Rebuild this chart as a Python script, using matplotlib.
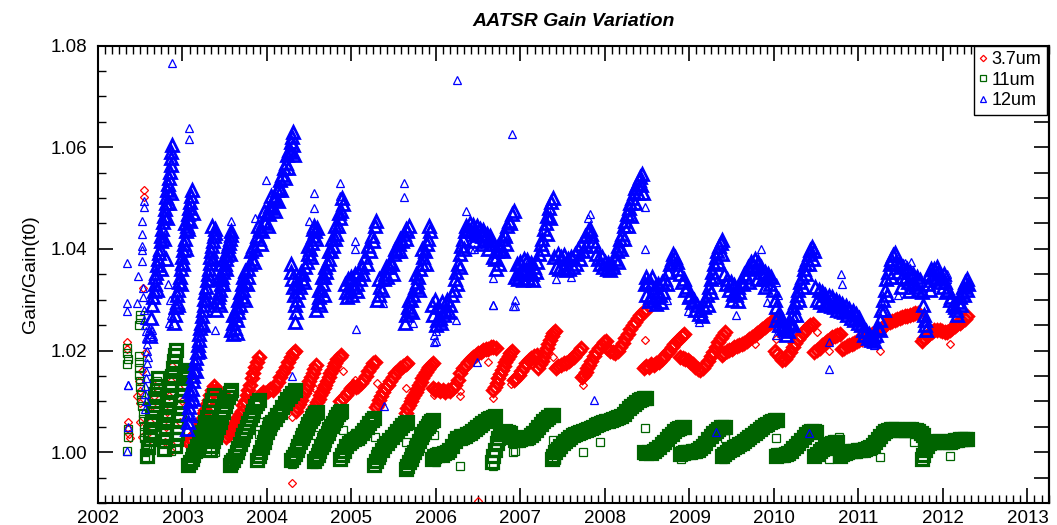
import matplotlib
matplotlib.use("Agg")
import matplotlib.pyplot as plt
from matplotlib.ticker import MultipleLocator, FixedLocator, FuncFormatter

# ---------------- data: (decimal year, Gain/Gain(t0)) ----------------
ch37 = [
 (2003.06,1.0020),(2003.08,1.0018),(2003.09,1.0026),(2003.11,1.0024),(2003.13,1.0031),(2003.15,1.0036),(2003.17,1.0045),
 (2003.19,1.0050),(2003.21,1.0060),(2003.23,1.0066),(2003.25,1.0077),(2003.27,1.0083),(2003.29,1.0095),(2003.31,1.0102),
 (2003.33,1.0113),(2003.35,1.0122),(2003.37,1.0130),(2003.40,1.0122),(2003.43,1.0118),(2003.46,1.0115),(2003.49,1.0112),
 (2003.52,1.0030),(2003.54,1.0036),(2003.56,1.0040),(2003.58,1.0046),(2003.60,1.0050),(2003.62,1.0058),(2003.64,1.0063),
 (2003.66,1.0070),(2003.68,1.0076),(2003.70,1.0082),(2003.72,1.0092),(2003.74,1.0101),(2003.76,1.0112),(2003.78,1.0122),
 (2003.80,1.0133),(2003.82,1.0145),(2003.84,1.0156),(2003.86,1.0167),(2003.88,1.0178),(2003.90,1.0187),
 (2003.92,1.0113),(2003.95,1.0118),(2003.98,1.0116),(2004.01,1.0121),(2004.04,1.0124),(2004.07,1.0122),(2004.10,1.0130),
 (2004.13,1.0138),(2004.16,1.0148),(2004.19,1.0158),(2004.22,1.0168),(2004.25,1.0178),(2004.28,1.0188),(2004.31,1.0196),(2004.33,1.0200),
 (2004.34,1.0082),(2004.36,1.0088),(2004.38,1.0095),(2004.40,1.0102),(2004.42,1.0110),(2004.44,1.0117),(2004.46,1.0124),
 (2004.48,1.0132),(2004.50,1.0140),(2004.52,1.0148),(2004.54,1.0156),(2004.56,1.0164),(2004.58,1.0172),
 (2004.55,1.0085),(2004.57,1.0090),(2004.59,1.0098),(2004.61,1.0104),(2004.63,1.0112),(2004.65,1.0118),(2004.67,1.0126),
 (2004.69,1.0133),(2004.71,1.0140),(2004.73,1.0147),(2004.75,1.0155),(2004.77,1.0162),(2004.79,1.0170),(2004.81,1.0176),
 (2004.83,1.0183),(2004.86,1.0188),(2004.88,1.0191),
 (2004.87,1.0100),(2004.90,1.0106),(2004.93,1.0113),(2004.96,1.0118),(2004.99,1.0126),(2005.02,1.0130),(2005.05,1.0128),
 (2005.08,1.0131),(2005.11,1.0137),(2005.14,1.0142),(2005.17,1.0150),(2005.20,1.0160),(2005.23,1.0168),(2005.26,1.0175),(2005.28,1.0178),
 (2005.29,1.0088),(2005.31,1.0095),(2005.33,1.0103),(2005.35,1.0110),(2005.37,1.0118),(2005.40,1.0126),(2005.43,1.0133),
 (2005.46,1.0141),(2005.49,1.0148),(2005.52,1.0155),(2005.55,1.0160),(2005.58,1.0165),(2005.61,1.0170),(2005.64,1.0174),(2005.66,1.0176),
 (2005.64,1.0078),(2005.66,1.0086),(2005.68,1.0093),(2005.70,1.0100),(2005.72,1.0106),(2005.74,1.0112),(2005.76,1.0119),
 (2005.78,1.0125),(2005.80,1.0132),(2005.82,1.0139),(2005.84,1.0145),(2005.86,1.0151),(2005.88,1.0157),(2005.90,1.0163),
 (2005.92,1.0168),(2005.94,1.0172),(2005.96,1.0176),
 (2005.96,1.0126),(2005.99,1.0122),(2006.02,1.0124),(2006.05,1.0120),(2006.08,1.0122),(2006.11,1.0119),(2006.14,1.0123),
 (2006.17,1.0121),(2006.20,1.0126),(2006.23,1.0133),(2006.26,1.0143),(2006.29,1.0155),(2006.32,1.0165),(2006.35,1.0172),
 (2006.38,1.0178),(2006.41,1.0183),(2006.44,1.0188),(2006.47,1.0192),(2006.50,1.0195),(2006.53,1.0198),(2006.56,1.0201),
 (2006.59,1.0203),(2006.62,1.0204),(2006.65,1.0206),(2006.68,1.0207),(2006.71,1.0205),
 (2006.68,1.0122),(2006.70,1.0128),(2006.72,1.0136),(2006.74,1.0145),(2006.76,1.0153),(2006.78,1.0162),(2006.80,1.0170),
 (2006.82,1.0177),(2006.84,1.0184),(2006.86,1.0190),(2006.88,1.0196),(2006.90,1.0200),
 (2006.92,1.0142),(2006.95,1.0146),(2006.98,1.0152),(2007.01,1.0160),(2007.04,1.0168),(2007.07,1.0175),(2007.10,1.0181),
 (2007.13,1.0186),(2007.16,1.0190),(2007.19,1.0192),
 (2007.21,1.0166),(2007.23,1.0173),(2007.25,1.0180),(2007.27,1.0188),(2007.29,1.0197),(2007.31,1.0205),(2007.33,1.0213),
 (2007.35,1.0221),(2007.37,1.0228),(2007.39,1.0234),(2007.41,1.0238),
 (2007.42,1.0166),(2007.45,1.0170),(2007.48,1.0172),(2007.51,1.0175),(2007.54,1.0176),(2007.57,1.0179),(2007.60,1.0183),
 (2007.63,1.0188),(2007.66,1.0194),(2007.69,1.0199),(2007.72,1.0205),
 (2007.73,1.0148),(2007.75,1.0152),(2007.77,1.0158),(2007.79,1.0165),(2007.81,1.0172),(2007.84,1.0180),(2007.87,1.0189),
 (2007.90,1.0197),(2007.93,1.0205),(2007.96,1.0211),(2007.99,1.0216),(2008.01,1.0218),
 (2008.03,1.0205),(2008.06,1.0200),(2008.09,1.0198),(2008.12,1.0196),(2008.15,1.0200),(2008.18,1.0207),(2008.21,1.0215),
 (2008.24,1.0224),(2008.27,1.0233),(2008.30,1.0242),(2008.33,1.0250),(2008.36,1.0257),(2008.39,1.0264),(2008.42,1.0270),
 (2008.45,1.0276),(2008.48,1.0280),
 (2008.46,1.0165),(2008.49,1.0170),(2008.52,1.0168),(2008.55,1.0173),(2008.58,1.0171),(2008.61,1.0175),(2008.64,1.0178),
 (2008.67,1.0184),(2008.70,1.0189),(2008.73,1.0195),(2008.76,1.0200),(2008.79,1.0207),(2008.82,1.0212),(2008.85,1.0218),
 (2008.88,1.0223),(2008.91,1.0228),(2008.94,1.0233),
 (2008.89,1.0188),(2008.92,1.0185),(2008.95,1.0183),(2008.98,1.0181),(2009.01,1.0178),(2009.04,1.0173),(2009.07,1.0168),
 (2009.10,1.0163),(2009.13,1.0161),(2009.16,1.0165),(2009.19,1.0172),(2009.22,1.0180),(2009.25,1.0189),(2009.28,1.0198),
 (2009.31,1.0207),(2009.34,1.0216),(2009.37,1.0224),(2009.40,1.0231),(2009.42,1.0236),
 (2009.38,1.0192),(2009.41,1.0196),(2009.44,1.0199),(2009.47,1.0202),(2009.50,1.0204),(2009.53,1.0207),(2009.56,1.0209),
 (2009.59,1.0211),(2009.62,1.0212),(2009.65,1.0214),(2009.68,1.0218),(2009.71,1.0222),(2009.74,1.0226),(2009.77,1.0230),
 (2009.80,1.0234),(2009.83,1.0238),(2009.86,1.0242),(2009.89,1.0246),(2009.92,1.0250),(2009.95,1.0254),(2009.98,1.0258),
 (2010.01,1.0261),(2010.03,1.0263),
 (2010.01,1.0200),(2010.04,1.0194),(2010.07,1.0188),(2010.10,1.0182),(2010.13,1.0183),(2010.16,1.0190),(2010.19,1.0198),
 (2010.22,1.0206),(2010.25,1.0214),(2010.28,1.0222),(2010.31,1.0229),(2010.34,1.0235),(2010.37,1.0241),(2010.40,1.0246),
 (2010.43,1.0250),(2010.46,1.0253),
 (2010.48,1.0198),(2010.51,1.0201),(2010.54,1.0205),(2010.57,1.0210),(2010.60,1.0214),(2010.63,1.0218),(2010.66,1.0222),
 (2010.69,1.0226),(2010.72,1.0229),(2010.75,1.0231),(2010.78,1.0233),
 (2010.80,1.0203),(2010.83,1.0205),(2010.86,1.0208),(2010.89,1.0211),(2010.92,1.0213),(2010.95,1.0215),(2010.98,1.0218),
 (2011.01,1.0220),(2011.04,1.0222),(2011.07,1.0224),(2011.10,1.0227),(2011.13,1.0229),(2011.16,1.0232),(2011.19,1.0235),
 (2011.22,1.0238),(2011.25,1.0241),(2011.28,1.0245),(2011.31,1.0250),(2011.34,1.0254),(2011.37,1.0257),(2011.40,1.0259),
 (2011.43,1.0261),(2011.46,1.0263),(2011.49,1.0265),(2011.52,1.0266),(2011.55,1.0267),(2011.58,1.0268),(2011.61,1.0270),
 (2011.64,1.0271),(2011.67,1.0273),(2011.70,1.0274),
 (2011.75,1.0218),(2011.78,1.0224),(2011.81,1.0229),(2011.84,1.0233),(2011.87,1.0237),(2011.90,1.0240),(2011.93,1.0241),
 (2011.96,1.0240),(2011.99,1.0238),(2012.02,1.0236),(2012.05,1.0237),(2012.08,1.0240),(2012.11,1.0244),(2012.14,1.0248),
 (2012.17,1.0252),(2012.20,1.0255),(2012.23,1.0259),(2012.26,1.0263),(2012.29,1.0267),
]
ch37_scatter = [
 (2002.34,1.0217),(2002.34,1.0203),(2002.35,1.0060),(2002.36,1.0047),(2002.38,1.0028),(2002.37,1.0035),
 (2002.54,1.0515),(2002.54,1.0502),(2002.53,1.0323),(2002.50,1.0097),(2002.50,1.0120),(2002.52,1.0160),(2002.56,1.0195),
 (2002.48,1.0140),(2002.46,1.0110),(2002.50,1.0060),(2002.52,1.0030),(2002.55,1.0000),
 (2002.58,1.0020),(2002.60,1.0040),(2002.62,1.0060),(2002.64,1.0090),(2002.66,1.0110),(2002.68,1.0130),
 (2002.79,1.0020),(2002.80,1.0050),(2002.82,1.0080),(2002.84,1.0110),(2002.86,1.0140),(2002.88,1.0170),(2002.87,1.0003),
 (2002.94,1.0020),(2002.97,1.0060),(2003.00,1.0100),(2003.03,1.0130),
 (2003.55,1.0027),(2003.90,1.0190),(2004.30,1.0070),(2004.30,0.9940),(2004.56,1.0127),(2004.90,1.0160),(2005.04,1.0143),
 (2005.30,1.0137),(2005.65,1.0127),(2005.98,1.0113),(2006.28,1.0120),(2006.28,1.0110),(2006.61,1.0177),(2006.67,1.0107),
 (2006.50,0.9903),(2006.89,1.0135),(2006.93,1.0143),(2007.38,1.0187),(2007.73,1.0143),(2007.74,1.0133),(2008.47,1.0220),
 (2009.78,1.0213),(2010.03,1.0223),(2010.51,1.0237),(2010.65,1.0200),(2011.26,1.0200),(2011.10,1.0233),(2012.08,1.0213),
 (2011.76,1.0218),
]

ch11 = [
 (2002.58,0.9993),(2002.59,1.0010),(2002.61,1.0025),(2002.62,1.0040),(2002.63,1.0055),(2002.64,1.0070),(2002.66,1.0085),
 (2002.67,1.0100),(2002.68,1.0115),(2002.70,1.0130),(2002.71,1.0145),
 (2002.78,1.0007),(2002.79,1.0022),(2002.80,1.0036),(2002.81,1.0050),(2002.82,1.0065),(2002.83,1.0080),(2002.84,1.0094),
 (2002.85,1.0108),(2002.86,1.0122),(2002.87,1.0136),(2002.88,1.0150),(2002.89,1.0165),(2002.90,1.0180),(2002.91,1.0192),(2002.92,1.0202),
 (2002.91,1.0013),(2002.92,1.0025),(2002.93,1.0038),(2002.94,1.0050),(2002.95,1.0063),(2002.96,1.0075),(2002.97,1.0088),
 (2002.98,1.0100),(2002.99,1.0113),(2003.00,1.0125),(2003.01,1.0135),(2003.02,1.0145),(2003.03,1.0152),(2003.04,1.0158),(2003.05,1.0162),
 (2003.07,0.9975),(2003.09,0.9980),(2003.11,0.9987),(2003.13,0.9995),(2003.15,1.0003),(2003.17,1.0012),(2003.19,1.0020),
 (2003.21,1.0030),(2003.23,1.0040),(2003.25,1.0050),(2003.27,1.0060),(2003.29,1.0070),(2003.31,1.0080),(2003.33,1.0090),
 (2003.35,1.0102),(2003.37,1.0112),
 (2003.32,1.0005),(2003.34,1.0013),(2003.36,1.0022),(2003.38,1.0030),(2003.40,1.0040),(2003.42,1.0050),(2003.44,1.0060),
 (2003.46,1.0070),(2003.48,1.0080),(2003.50,1.0090),(2003.52,1.0100),(2003.54,1.0108),(2003.56,1.0116),(2003.58,1.0122),
 (2003.56,0.9975),(2003.58,0.9980),(2003.60,0.9985),(2003.62,0.9992),(2003.64,1.0000),(2003.66,1.0008),(2003.68,1.0016),
 (2003.70,1.0025),(2003.72,1.0033),(2003.74,1.0042),(2003.76,1.0050),(2003.78,1.0058),(2003.80,1.0066),(2003.82,1.0074),
 (2003.84,1.0082),(2003.86,1.0090),(2003.88,1.0097),(2003.90,1.0103),
 (2003.88,0.9985),(2003.90,0.9992),(2003.92,1.0000),(2003.94,1.0010),(2003.96,1.0020),(2003.98,1.0030),(2004.00,1.0040),
 (2004.02,1.0048),(2004.04,1.0056),(2004.06,1.0060),(2004.09,1.0066),(2004.12,1.0073),(2004.15,1.0080),(2004.18,1.0088),
 (2004.21,1.0096),(2004.24,1.0104),(2004.27,1.0111),(2004.30,1.0117),(2004.33,1.0122),
 (2004.29,0.9985),(2004.31,0.9990),(2004.33,0.9997),(2004.35,1.0005),(2004.37,1.0013),(2004.39,1.0020),(2004.41,1.0027),
 (2004.43,1.0034),(2004.45,1.0041),(2004.47,1.0048),(2004.49,1.0055),(2004.51,1.0061),(2004.53,1.0067),(2004.55,1.0072),
 (2004.57,1.0077),(2004.59,1.0080),
 (2004.56,0.9982),(2004.58,0.9988),(2004.60,0.9995),(2004.62,1.0003),(2004.64,1.0010),(2004.66,1.0017),(2004.68,1.0024),
 (2004.70,1.0031),(2004.72,1.0038),(2004.74,1.0045),(2004.76,1.0052),(2004.78,1.0058),(2004.80,1.0064),(2004.82,1.0070),
 (2004.84,1.0075),(2004.86,1.0079),(2004.88,1.0082),
 (2004.87,0.9987),(2004.89,0.9995),(2004.91,1.0003),(2004.94,1.0012),(2004.97,1.0018),(2005.00,1.0022),(2005.03,1.0025),
 (2005.06,1.0028),(2005.09,1.0032),(2005.12,1.0038),(2005.15,1.0044),(2005.18,1.0050),(2005.21,1.0057),(2005.24,1.0063),(2005.27,1.0068),
 (2005.27,0.9975),(2005.29,0.9982),(2005.31,0.9990),(2005.33,0.9997),(2005.36,1.0005),(2005.39,1.0012),(2005.42,1.0018),
 (2005.45,1.0024),(2005.48,1.0030),(2005.51,1.0036),(2005.54,1.0042),(2005.57,1.0048),(2005.60,1.0053),(2005.63,1.0057),(2005.66,1.0060),
 (2005.64,0.9967),(2005.66,0.9973),(2005.68,0.9980),(2005.70,0.9987),(2005.72,0.9994),(2005.74,1.0001),(2005.76,1.0008),
 (2005.78,1.0015),(2005.80,1.0022),(2005.82,1.0029),(2005.84,1.0035),(2005.86,1.0041),(2005.88,1.0047),(2005.90,1.0052),
 (2005.92,1.0057),(2005.94,1.0061),(2005.96,1.0064),
 (2005.95,0.9987),(2005.98,0.9992),(2006.01,0.9995),(2006.04,0.9997),(2006.07,0.9995),(2006.10,0.9998),(2006.13,1.0000),
 (2006.16,1.0005),(2006.19,1.0013),(2006.22,1.0022),(2006.25,1.0027),(2006.28,1.0028),(2006.31,1.0030),(2006.34,1.0032),
 (2006.37,1.0035),(2006.40,1.0038),(2006.43,1.0042),(2006.46,1.0046),(2006.49,1.0050),(2006.52,1.0054),(2006.55,1.0058),
 (2006.58,1.0061),(2006.61,1.0065),(2006.64,1.0068),(2006.67,1.0070),(2006.70,1.0071),
 (2006.66,0.9980),(2006.68,0.9992),(2006.70,1.0005),(2006.72,1.0018),(2006.74,1.0028),(2006.76,1.0035),(2006.79,1.0040),
 (2006.82,1.0041),(2006.85,1.0040),(2006.88,1.0037),(2006.91,1.0030),(2006.94,1.0024),(2006.97,1.0024),(2007.00,1.0026),
 (2007.03,1.0027),(2007.06,1.0027),(2007.09,1.0029),(2007.12,1.0033),(2007.15,1.0038),(2007.18,1.0044),(2007.21,1.0050),
 (2007.24,1.0056),(2007.27,1.0062),(2007.30,1.0066),(2007.33,1.0070),(2007.36,1.0073),(2007.39,1.0074),
 (2007.37,0.9987),(2007.39,0.9993),(2007.41,1.0000),(2007.44,1.0007),(2007.47,1.0013),(2007.50,1.0018),(2007.53,1.0022),
 (2007.56,1.0026),(2007.59,1.0030),(2007.62,1.0033),(2007.65,1.0036),(2007.68,1.0038),(2007.71,1.0040),(2007.74,1.0041),
 (2007.77,1.0043),(2007.80,1.0045),(2007.83,1.0048),(2007.86,1.0050),(2007.89,1.0053),(2007.92,1.0056),(2007.95,1.0058),
 (2007.98,1.0060),(2008.01,1.0061),(2008.04,1.0062),(2008.07,1.0063),(2008.10,1.0065),(2008.13,1.0067),(2008.16,1.0069),
 (2008.19,1.0072),(2008.22,1.0076),(2008.25,1.0081),(2008.28,1.0086),(2008.31,1.0090),(2008.34,1.0094),(2008.37,1.0098),
 (2008.40,1.0102),(2008.43,1.0105),(2008.46,1.0107),(2008.49,1.0106),
 (2008.46,1.0000),(2008.49,0.9998),(2008.52,1.0000),(2008.55,0.9999),(2008.58,1.0002),(2008.61,1.0006),(2008.64,1.0011),
 (2008.67,1.0016),(2008.70,1.0021),(2008.73,1.0026),(2008.76,1.0031),(2008.79,1.0036),(2008.82,1.0041),(2008.85,1.0045),
 (2008.88,1.0048),(2008.91,1.0050),(2008.94,1.0049),
 (2008.89,0.9997),(2008.92,0.9999),(2008.95,1.0000),(2008.98,1.0001),(2009.01,1.0001),(2009.04,1.0002),(2009.07,1.0003),
 (2009.10,1.0005),(2009.13,1.0008),(2009.16,1.0013),(2009.19,1.0019),(2009.22,1.0025),(2009.25,1.0031),(2009.28,1.0037),
 (2009.31,1.0042),(2009.34,1.0046),(2009.37,1.0049),(2009.40,1.0050),(2009.42,1.0049),
 (2009.38,0.9993),(2009.41,0.9997),(2009.44,1.0001),(2009.47,1.0004),(2009.50,1.0007),(2009.53,1.0010),(2009.56,1.0013),
 (2009.59,1.0016),(2009.62,1.0019),(2009.65,1.0022),(2009.68,1.0026),(2009.71,1.0030),(2009.74,1.0034),(2009.77,1.0038),
 (2009.80,1.0042),(2009.83,1.0046),(2009.86,1.0050),(2009.89,1.0053),(2009.92,1.0056),(2009.95,1.0059),(2009.98,1.0061),
 (2010.01,1.0063),(2010.04,1.0063),
 (2010.02,0.9993),(2010.05,0.9994),(2010.08,0.9995),(2010.11,0.9994),(2010.14,0.9996),(2010.17,0.9999),(2010.20,1.0003),
 (2010.23,1.0008),(2010.26,1.0013),(2010.29,1.0018),(2010.32,1.0024),(2010.35,1.0030),(2010.38,1.0035),(2010.41,1.0039),
 (2010.44,1.0041),(2010.47,1.0041),(2010.50,1.0039),
 (2010.48,0.9993),(2010.51,0.9997),(2010.54,1.0002),(2010.57,1.0006),(2010.60,1.0010),(2010.63,1.0013),(2010.66,1.0016),
 (2010.69,1.0018),(2010.72,1.0020),(2010.75,1.0021),
 (2010.78,0.9993),(2010.81,0.9996),(2010.84,0.9999),(2010.87,1.0001),(2010.90,1.0002),(2010.93,1.0003),(2010.96,1.0003),
 (2010.99,1.0004),(2011.02,1.0004),(2011.05,1.0005),(2011.08,1.0006),(2011.11,1.0008),(2011.14,1.0011),(2011.17,1.0015),
 (2011.20,1.0020),(2011.23,1.0026),(2011.26,1.0032),(2011.29,1.0037),(2011.32,1.0041),(2011.35,1.0044),(2011.38,1.0046),
 (2011.41,1.0046),(2011.44,1.0045),(2011.47,1.0044),(2011.50,1.0043),(2011.53,1.0043),(2011.56,1.0044),(2011.59,1.0045),
 (2011.62,1.0045),(2011.65,1.0044),(2011.68,1.0043),(2011.71,1.0041),(2011.74,1.0038),(2011.77,1.0034),
 (2011.75,0.9987),(2011.77,0.9995),(2011.79,1.0005),(2011.81,1.0013),(2011.84,1.0018),(2011.87,1.0020),(2011.90,1.0021),
 (2011.93,1.0022),(2011.96,1.0022),(2011.99,1.0021),(2012.02,1.0020),(2012.05,1.0020),(2012.08,1.0021),(2012.11,1.0022),
 (2012.14,1.0023),(2012.17,1.0024),(2012.20,1.0025),(2012.23,1.0025),(2012.26,1.0026),(2012.29,1.0026),
]
ch11_scatter = [
 (2002.34,1.0205),(2002.34,1.0195),(2002.35,1.0183),(2002.34,1.0173),(2002.35,1.0045),(2002.36,1.0030),(2002.34,1.0003),
 (2002.50,1.0270),(2002.50,1.0262),(2002.49,1.0250),(2002.48,1.0190),(2002.48,1.0178),(2002.49,1.0165),(2002.49,1.0152),
 (2002.50,1.0140),(2002.50,1.0128),(2002.51,1.0115),(2002.51,1.0103),(2002.52,1.0090),(2002.53,1.0078),(2002.53,1.0065),
 (2002.54,1.0052),(2002.55,1.0040),(2002.55,1.0027),(2002.56,1.0013),(2002.56,1.0000),(2002.56,0.9987),
 (2002.58,1.0005),(2002.70,1.0140),(2002.71,1.0127),(2002.87,1.0003),
 (2003.38,1.0000),(2003.37,1.0030),(2003.60,0.9985),(2003.65,0.9990),(2003.90,1.0060),(2003.91,1.0035),
 (2004.30,0.9977),(2004.56,1.0033),(2004.56,0.9977),(2004.90,1.0043),(2005.04,1.0037),(2005.28,1.0030),
 (2005.65,1.0020),(2005.96,1.0057),(2005.98,1.0033),(2006.26,1.0037),(2006.28,0.9973),(2006.00,0.9980),
 (2006.91,1.0000),(2006.93,1.0003),(2006.67,0.9973),(2007.38,1.0023),(2007.74,1.0000),(2007.94,1.0020),(2007.42,0.9985),
 (2008.47,1.0047),(2008.90,0.9987),(2009.42,1.0027),(2009.40,0.9987),(2010.03,1.0027),(2010.65,0.9987),(2010.77,1.0030),
 (2011.26,0.9990),(2011.66,1.0020),(2012.08,0.9993),
]

ch12 = [
 (2002.62,1.0228),(2002.63,1.0265),(2002.64,1.0290),(2002.65,1.0305),(2002.66,1.0318),(2002.67,1.0330),(2002.68,1.0345),
 (2002.69,1.0352),(2002.70,1.0368),(2002.71,1.0380),(2002.72,1.0392),(2002.73,1.0400),(2002.74,1.0415),(2002.75,1.0425),
 (2002.76,1.0440),(2002.77,1.0452),(2002.78,1.0465),(2002.79,1.0478),(2002.80,1.0490),(2002.81,1.0502),(2002.82,1.0515),
 (2002.83,1.0528),(2002.84,1.0540),(2002.85,1.0552),(2002.86,1.0565),(2002.87,1.0578),(2002.87,1.0590),(2002.88,1.0605),
 (2002.70,1.0320),(2002.74,1.0360),(2002.78,1.0420),(2002.80,1.0380),(2002.82,1.0460),(2002.84,1.0490),(2002.86,1.0510),
 (2002.90,1.0255),(2002.91,1.0270),(2002.92,1.0285),(2002.93,1.0295),(2002.94,1.0310),(2002.95,1.0320),(2002.96,1.0335),
 (2002.97,1.0345),(2002.98,1.0360),(2002.99,1.0372),(2003.00,1.0385),(2003.01,1.0398),(2003.02,1.0410),(2003.03,1.0420),
 (2003.04,1.0435),(2003.05,1.0445),(2003.06,1.0458),(2003.07,1.0468),(2003.08,1.0480),(2003.09,1.0492),(2003.10,1.0505),
 (2003.11,1.0515),(2002.95,1.0290),(2002.98,1.0330),(2003.01,1.0370),(2003.04,1.0400),(2003.07,1.0440),(2003.09,1.0455),
 (2003.12,1.0470),(2003.03,1.0450),
 (2003.05,1.0045),(2003.06,1.0060),(2003.07,1.0075),(2003.08,1.0088),(2003.09,1.0100),(2003.10,1.0115),(2003.11,1.0125),
 (2003.12,1.0140),(2003.13,1.0150),(2003.14,1.0162),(2003.15,1.0175),(2003.16,1.0185),(2003.17,1.0198),(2003.18,1.0210),
 (2003.19,1.0220),(2003.20,1.0232),(2003.21,1.0245),(2003.22,1.0255),(2003.23,1.0268),(2003.24,1.0280),(2003.25,1.0290),
 (2003.26,1.0302),(2003.27,1.0315),(2003.28,1.0325),(2003.29,1.0338),(2003.30,1.0350),(2003.31,1.0360),(2003.32,1.0372),
 (2003.33,1.0385),(2003.34,1.0395),(2003.35,1.0405),(2003.36,1.0415),(2003.37,1.0425),(2003.38,1.0432),(2003.39,1.0440),
 (2003.08,1.0120),(2003.12,1.0105),(2003.16,1.0160),(2003.20,1.0200),(2003.24,1.0250),(2003.28,1.0300),(2003.32,1.0340),
 (2003.36,1.0380),(2003.35,1.0445),
 (2003.40,1.0280),(2003.41,1.0295),(2003.42,1.0305),(2003.43,1.0312),(2003.44,1.0320),(2003.45,1.0330),(2003.46,1.0340),
 (2003.47,1.0345),(2003.48,1.0355),(2003.49,1.0362),(2003.50,1.0370),(2003.51,1.0380),(2003.52,1.0388),(2003.53,1.0395),
 (2003.54,1.0405),(2003.55,1.0412),(2003.56,1.0420),(2003.57,1.0428),(2003.58,1.0436),
 (2003.44,1.0290),(2003.48,1.0330),(2003.52,1.0360),(2003.56,1.0390),(2003.42,1.0340),(2003.46,1.0370),
 (2003.58,1.0240),(2003.60,1.0232),(2003.60,1.0255),(2003.62,1.0245),(2003.62,1.0270),(2003.64,1.0260),(2003.64,1.0285),
 (2003.66,1.0275),(2003.66,1.0300),(2003.68,1.0290),(2003.68,1.0315),(2003.70,1.0305),(2003.70,1.0330),(2003.72,1.0320),
 (2003.72,1.0345),(2003.74,1.0335),(2003.74,1.0356),(2003.60,1.0270),(2003.65,1.0235),
 (2003.74,1.0300),(2003.76,1.0330),(2003.78,1.0345),(2003.80,1.0370),(2003.82,1.0380),(2003.84,1.0405),(2003.86,1.0400),
 (2003.88,1.0425),(2003.90,1.0420),(2003.92,1.0440),(2003.94,1.0435),(2003.96,1.0455),(2003.98,1.0450),(2004.00,1.0470),
 (2004.02,1.0468),(2004.04,1.0485),(2004.06,1.0480),(2004.08,1.0500),(2004.10,1.0498),(2004.12,1.0515),(2004.14,1.0520),
 (2004.16,1.0535),(2004.18,1.0545),(2004.20,1.0560),(2004.22,1.0570),(2004.24,1.0585),(2004.26,1.0595),(2004.28,1.0610),
 (2004.30,1.0620),(2004.31,1.0630),
 (2003.77,1.0360),(2003.81,1.0395),(2003.85,1.0375),(2003.89,1.0445),(2003.93,1.0410),(2003.97,1.0475),(2004.01,1.0445),
 (2004.05,1.0505),(2004.09,1.0475),(2004.13,1.0495),(2004.17,1.0515),(2004.21,1.0540),(2004.25,1.0560),(2004.29,1.0590),
 (2004.31,1.0605),(2004.32,1.0585),
 (2004.28,1.0370),(2004.29,1.0355),(2004.30,1.0340),(2004.31,1.0325),(2004.32,1.0310),(2004.33,1.0290),(2004.34,1.0275),(2004.33,1.0257),
 (2004.35,1.0300),(2004.37,1.0315),(2004.39,1.0325),(2004.41,1.0340),(2004.43,1.0350),(2004.45,1.0365),(2004.47,1.0375),
 (2004.49,1.0390),(2004.51,1.0400),(2004.53,1.0412),(2004.55,1.0425),(2004.57,1.0435),(2004.59,1.0442),
 (2004.36,1.0330),(2004.40,1.0355),(2004.44,1.0335),(2004.48,1.0405),(2004.52,1.0385),(2004.56,1.0445),(2004.58,1.0420),(2004.54,1.0440),
 (2004.58,1.0280),(2004.60,1.0295),(2004.62,1.0305),(2004.64,1.0320),(2004.66,1.0330),(2004.68,1.0345),(2004.70,1.0355),
 (2004.72,1.0370),(2004.74,1.0380),(2004.76,1.0395),(2004.78,1.0405),(2004.80,1.0420),(2004.82,1.0430),(2004.84,1.0445),
 (2004.86,1.0460),(2004.88,1.0475),(2004.90,1.0488),
 (2004.61,1.0320),(2004.65,1.0345),(2004.69,1.0365),(2004.73,1.0395),(2004.77,1.0420),(2004.81,1.0445),(2004.85,1.0470),
 (2004.89,1.0500),(2004.63,1.0290),(2004.67,1.0310),
 (2004.92,1.0330),(2004.94,1.0315),(2004.96,1.0340),(2004.98,1.0320),(2005.00,1.0345),(2005.02,1.0325),(2005.04,1.0350),
 (2005.06,1.0330),(2005.08,1.0355),(2005.10,1.0340),(2005.12,1.0365),(2005.14,1.0350),(2005.16,1.0385),(2005.18,1.0370),
 (2005.20,1.0405),(2005.22,1.0395),(2005.24,1.0425),(2005.26,1.0415),(2005.28,1.0445),(2005.29,1.0455),
 (2004.95,1.0305),(2005.01,1.0310),(2005.07,1.0318),
 (2005.30,1.0300),(2005.32,1.0310),(2005.34,1.0325),(2005.36,1.0320),(2005.38,1.0340),(2005.40,1.0350),(2005.42,1.0345),
 (2005.44,1.0365),(2005.46,1.0375),(2005.48,1.0370),(2005.50,1.0390),(2005.52,1.0400),(2005.54,1.0395),(2005.56,1.0410),
 (2005.58,1.0420),(2005.60,1.0415),(2005.62,1.0430),(2005.64,1.0440),(2005.66,1.0435),(2005.68,1.0445),
 (2005.33,1.0340),(2005.41,1.0365),(2005.49,1.0350),(2005.57,1.0395),(2005.65,1.0420),
 (2005.63,1.0255),(2005.65,1.0270),(2005.67,1.0285),(2005.69,1.0280),(2005.71,1.0300),(2005.73,1.0310),(2005.75,1.0325),
 (2005.77,1.0335),(2005.79,1.0345),(2005.81,1.0360),(2005.83,1.0370),(2005.85,1.0385),(2005.87,1.0395),(2005.89,1.0410),
 (2005.91,1.0420),(2005.93,1.0435),
 (2005.68,1.0300),(2005.72,1.0275),(2005.76,1.0350),(2005.80,1.0320),(2005.84,1.0400),(2005.88,1.0370),(2005.92,1.0445),
 (2005.95,1.0290),(2005.97,1.0270),(2005.99,1.0300),(2006.01,1.0260),(2006.03,1.0285),(2006.05,1.0265),(2006.07,1.0295),
 (2006.09,1.0270),(2006.11,1.0280),(2006.13,1.0300),(2006.15,1.0275),(2006.17,1.0290),(2006.19,1.0310),(2006.21,1.0320),
 (2006.00,1.0250),(2006.06,1.0255),
 (2006.22,1.0340),(2006.24,1.0355),(2006.26,1.0370),(2006.28,1.0390),(2006.30,1.0405),(2006.32,1.0420),(2006.34,1.0435),
 (2006.36,1.0445),(2006.38,1.0440),(2006.40,1.0450),(2006.42,1.0435),(2006.44,1.0448),(2006.46,1.0430),(2006.48,1.0445),
 (2006.50,1.0428),(2006.52,1.0440),(2006.54,1.0425),(2006.56,1.0438),(2006.58,1.0420),(2006.60,1.0430),(2006.62,1.0415),
 (2006.64,1.0425),(2006.66,1.0410),
 (2006.25,1.0330),(2006.29,1.0365),(2006.33,1.0400),(2006.45,1.0415),(2006.55,1.0410),(2006.61,1.0400),
 (2006.68,1.0385),(2006.70,1.0380),(2006.72,1.0395),(2006.74,1.0405),(2006.76,1.0400),(2006.78,1.0420),(2006.80,1.0430),
 (2006.82,1.0425),(2006.84,1.0445),(2006.86,1.0455),(2006.88,1.0450),(2006.90,1.0468),(2006.92,1.0475),
 (2006.71,1.0360),(2006.75,1.0370),(2006.79,1.0395),(2006.83,1.0410),
 (2006.94,1.0345),(2006.96,1.0370),(2006.98,1.0350),(2007.00,1.0375),(2007.02,1.0355),(2007.04,1.0380),(2007.06,1.0360),
 (2007.08,1.0378),(2007.10,1.0355),(2007.12,1.0372),(2007.14,1.0350),(2007.16,1.0365),(2007.18,1.0355),(2007.20,1.0375),
 (2007.22,1.0390),(2007.24,1.0410),(2007.26,1.0420),(2007.28,1.0440),(2007.30,1.0450),(2007.32,1.0465),(2007.34,1.0480),
 (2007.36,1.0492),(2007.38,1.0500),
 (2006.97,1.0340),(2007.03,1.0338),(2007.09,1.0342),(2007.15,1.0338),(2007.27,1.0400),(2007.31,1.0430),(2007.35,1.0460),
 (2007.40,1.0385),(2007.42,1.0365),(2007.44,1.0390),(2007.46,1.0360),(2007.48,1.0385),(2007.50,1.0362),(2007.52,1.0388),
 (2007.54,1.0358),(2007.56,1.0380),(2007.58,1.0360),(2007.60,1.0385),(2007.62,1.0365),(2007.64,1.0390),(2007.66,1.0370),
 (2007.68,1.0400),(2007.70,1.0380),(2007.72,1.0410),(2007.74,1.0395),(2007.76,1.0425),(2007.78,1.0405),(2007.80,1.0435),
 (2007.82,1.0440),(2007.84,1.0430),(2007.86,1.0415),(2007.88,1.0405),(2007.90,1.0390),(2007.92,1.0380),(2007.94,1.0370),
 (2007.96,1.0385),(2007.98,1.0365),(2008.00,1.0375),(2008.02,1.0360),(2008.04,1.0372),(2008.06,1.0358),(2008.08,1.0370),
 (2008.10,1.0365),
 (2008.12,1.0380),(2008.14,1.0395),(2008.16,1.0405),(2008.18,1.0420),(2008.20,1.0430),(2008.22,1.0445),(2008.24,1.0455),
 (2008.26,1.0468),(2008.28,1.0480),(2008.30,1.0490),(2008.32,1.0500),(2008.34,1.0510),(2008.36,1.0520),(2008.38,1.0528),
 (2008.40,1.0535),(2008.42,1.0542),(2008.44,1.0548),
 (2008.15,1.0375),(2008.19,1.0400),(2008.23,1.0420),(2008.27,1.0445),(2008.31,1.0465),(2008.35,1.0490),(2008.39,1.0510),
 (2008.43,1.0525),(2008.45,1.0510),
 (2008.47,1.0330),(2008.49,1.0310),(2008.51,1.0335),(2008.53,1.0305),(2008.55,1.0330),(2008.57,1.0300),(2008.59,1.0325),
 (2008.61,1.0305),(2008.63,1.0330),(2008.65,1.0310),(2008.67,1.0335),(2008.69,1.0315),(2008.71,1.0340),(2008.73,1.0330),
 (2008.75,1.0355),(2008.77,1.0370),(2008.79,1.0380),(2008.81,1.0390),(2008.83,1.0385),(2008.85,1.0375),(2008.87,1.0360),
 (2008.48,1.0345),(2008.52,1.0298),(2008.56,1.0345),(2008.60,1.0292),(2008.66,1.0295),
 (2008.89,1.0350),(2008.91,1.0335),(2008.93,1.0340),(2008.95,1.0320),(2008.97,1.0325),(2008.99,1.0305),(2009.01,1.0310),
 (2009.03,1.0295),(2009.05,1.0300),(2009.07,1.0280),(2009.09,1.0290),(2009.11,1.0272),(2009.13,1.0280),(2009.15,1.0268),
 (2009.17,1.0285),(2009.19,1.0300),
 (2009.21,1.0310),(2009.23,1.0325),(2009.25,1.0340),(2009.27,1.0355),(2009.29,1.0370),(2009.31,1.0385),(2009.33,1.0395),
 (2009.35,1.0405),(2009.37,1.0412),(2009.39,1.0418),(2009.22,1.0290),(2009.26,1.0315),(2009.30,1.0345),(2009.34,1.0375),
 (2009.38,1.0390),
 (2009.41,1.0350),(2009.43,1.0330),(2009.45,1.0340),(2009.47,1.0320),(2009.49,1.0335),(2009.51,1.0312),(2009.53,1.0328),
 (2009.55,1.0310),(2009.57,1.0325),(2009.59,1.0315),(2009.61,1.0335),(2009.63,1.0330),(2009.65,1.0350),(2009.67,1.0345),
 (2009.69,1.0365),(2009.71,1.0360),(2009.73,1.0375),(2009.75,1.0368),(2009.77,1.0380),(2009.79,1.0365),(2009.81,1.0375),
 (2009.83,1.0355),(2009.85,1.0365),(2009.87,1.0345),(2009.89,1.0355),(2009.91,1.0340),(2009.93,1.0350),(2009.95,1.0330),
 (2009.97,1.0345),(2009.99,1.0320),(2009.50,1.0300),(2009.58,1.0298),(2009.70,1.0335),(2009.80,1.0340),(2009.90,1.0325),
 (2010.01,1.0300),(2010.03,1.0285),(2010.05,1.0270),(2010.07,1.0260),(2010.09,1.0250),(2010.11,1.0245),(2010.13,1.0240),
 (2010.15,1.0248),(2010.17,1.0238),(2010.02,1.0260),(2010.06,1.0250),(2010.10,1.0262),(2010.14,1.0230),(2010.18,1.0255),
 (2010.19,1.0255),(2010.21,1.0270),(2010.23,1.0285),(2010.25,1.0295),(2010.27,1.0310),(2010.29,1.0320),(2010.31,1.0335),
 (2010.33,1.0345),(2010.35,1.0360),(2010.37,1.0370),(2010.39,1.0380),(2010.41,1.0390),(2010.43,1.0398),(2010.45,1.0403),
 (2010.47,1.0395),(2010.22,1.0250),(2010.26,1.0270),(2010.30,1.0300),(2010.34,1.0325),(2010.38,1.0350),(2010.42,1.0370),
 (2010.46,1.0380),
 (2010.49,1.0325),(2010.51,1.0300),(2010.53,1.0320),(2010.55,1.0295),(2010.57,1.0315),(2010.59,1.0290),(2010.61,1.0310),
 (2010.63,1.0292),(2010.65,1.0308),(2010.67,1.0288),(2010.69,1.0305),(2010.71,1.0285),(2010.73,1.0300),(2010.75,1.0280),
 (2010.77,1.0295),(2010.79,1.0278),(2010.81,1.0292),(2010.83,1.0275),(2010.85,1.0288),(2010.87,1.0270),(2010.89,1.0282),
 (2010.91,1.0265),(2010.93,1.0278),(2010.95,1.0260),(2010.97,1.0272),(2010.99,1.0255),(2011.01,1.0265),(2011.03,1.0250),
 (2011.05,1.0240),(2011.07,1.0230),(2011.09,1.0238),(2011.11,1.0225),(2011.13,1.0232),(2011.15,1.0220),(2011.17,1.0228),
 (2011.19,1.0218),(2011.21,1.0230),
 (2011.23,1.0245),(2011.25,1.0260),(2011.27,1.0280),(2011.29,1.0300),(2011.31,1.0320),(2011.33,1.0340),(2011.35,1.0355),
 (2011.37,1.0370),(2011.39,1.0380),(2011.41,1.0388),(2011.43,1.0392),(2011.26,1.0240),(2011.30,1.0280),(2011.34,1.0310),
 (2011.38,1.0345),
 (2011.45,1.0375),(2011.47,1.0355),(2011.49,1.0370),(2011.51,1.0345),(2011.53,1.0365),(2011.55,1.0340),(2011.57,1.0360),
 (2011.59,1.0335),(2011.61,1.0355),(2011.63,1.0330),(2011.65,1.0350),(2011.67,1.0325),(2011.69,1.0345),(2011.71,1.0320),
 (2011.73,1.0338),(2011.75,1.0315),(2011.50,1.0325),(2011.60,1.0318),
 (2011.77,1.0290),(2011.78,1.0270),(2011.79,1.0250),(2011.80,1.0240),(2011.79,1.0260),
 (2011.82,1.0330),(2011.84,1.0350),(2011.86,1.0360),(2011.88,1.0345),(2011.90,1.0360),(2011.92,1.0340),(2011.94,1.0355),
 (2011.96,1.0335),(2011.98,1.0345),(2012.00,1.0325),(2012.02,1.0335),(2012.04,1.0315),(2012.06,1.0320),(2012.08,1.0300),
 (2012.10,1.0305),(2012.12,1.0290),(2012.14,1.0285),(2011.85,1.0320),(2011.93,1.0365),(2012.01,1.0350),
 (2012.16,1.0280),(2012.18,1.0295),(2012.20,1.0305),(2012.22,1.0315),(2012.24,1.0325),(2012.26,1.0335),(2012.28,1.0340),
 (2012.30,1.0330),(2012.17,1.0270),(2012.21,1.0290),(2012.25,1.0310),(2012.29,1.0320),
]
ch12_scatter = [
 (2002.34,1.0373),(2002.34,1.0294),(2002.34,1.0277),(2002.35,1.0132),(2002.35,1.0050),(2002.34,1.0003),
 (2002.47,1.0347),(2002.46,1.0294),
 (2002.52,1.0455),(2002.52,1.0429),(2002.52,1.0406),(2002.52,1.0398),(2002.52,1.0376),(2002.53,1.0323),(2002.53,1.0305),
 (2002.54,1.0495),(2002.54,1.0482),(2002.55,1.0280),(2002.55,1.0260),
 (2002.56,1.0250),(2002.57,1.0238),(2002.57,1.0225),(2002.58,1.0212),(2002.58,1.0200),(2002.59,1.0188),(2002.58,1.0175),
 (2002.57,1.0160),(2002.57,1.0145),(2002.56,1.0130),(2002.56,1.0115),(2002.57,1.0100),(2002.56,1.0085),
 (2002.60,1.0240),(2002.62,1.0245),(2002.63,1.0232),(2002.64,1.0240),(2002.65,1.0228),
 (2002.83,1.0330),(2002.85,1.0300),(2002.88,1.0280),(2002.86,1.0270),(2002.84,1.0255),
 (2003.13,1.0067),(2003.38,1.0240),
 (2002.88,1.0766),(2006.25,1.0732),(2006.90,1.0627),(2003.08,1.0638),(2003.08,1.0617),(2004.30,1.0150),(2005.39,1.0090),
 (2005.05,1.0243),(2006.48,1.0177),(2005.98,1.0217),(2006.67,1.0290),(2006.91,1.0288),(2007.87,1.0103),(2009.31,1.0040),
 (2010.41,1.0038),(2010.65,1.0163),(2010.65,1.0217),(2011.19,1.0210),(2002.35,1.0133),
 (2003.58,1.0455),(2003.86,1.0460),(2003.99,1.0535),(2004.04,1.0480),(2004.56,1.0510),(2004.56,1.0480),(2004.50,1.0455),
 (2004.87,1.0530),(2004.87,1.0505),(2005.04,1.0416),(2005.04,1.0400),(2005.37,1.0294),(2005.62,1.0530),(2005.62,1.0503),
 (2005.73,1.0255),(2006.00,1.0238),(2006.00,1.0218),(2006.24,1.0260),(2005.98,1.0230),(2006.35,1.0475),(2006.41,1.0400),
 (2006.45,1.0400),(2006.68,1.0343),(2006.68,1.0290),(2006.93,1.0300),(2006.93,1.0287),(2007.42,1.0340),(2007.80,1.0460),
 (2007.82,1.0468),(2007.60,1.0345),(2008.47,1.0482),(2008.47,1.0400),(2008.74,1.0300),(2009.11,1.0257),(2008.98,1.0277),
 (2009.85,1.0400),(2009.55,1.0270),(2009.92,1.0295),(2010.05,1.0310),(2010.03,1.0335),(2010.03,1.0230),(2010.79,1.0350),
 (2010.80,1.0330),(2010.58,1.0320),(2011.55,1.0372),(2011.47,1.0310),(2011.62,1.0375),(2012.05,1.0350),(2012.05,1.0340),
]

series_labels = ["3.7um", "11um", "12um"]
series_colors = ["#ff0000", "#006400", "#0000ff"]
series_markers = ["D", "s", "^"]

# ---------------- figure ----------------
plt.rcParams['font.family'] = ['Liberation Sans', 'DejaVu Sans']
fig = plt.figure(figsize=(10.57, 5.25), dpi=100)
ax = fig.add_axes([0.0927, 0.0419, 0.8993, 0.8712])

bands = [ch37, ch11, ch12]
loose = [ch37_scatter, ch11_scatter, ch12_scatter]
band_size = [6.3, 8.2, 8.6]
band_mew = [2.3, 2.3, 2.0]
loose_size = [4.3, 5.4, 5.2]
handles = []
for i in range(3):
    for d, ms, mew in ((bands[i], band_size[i], band_mew[i]), (loose[i], loose_size[i], 0.9)):
        xs = [p[0] for p in d]
        ys = [p[1] for p in d]
        ax.plot(xs, ys, linestyle='none', marker=series_markers[i], markersize=ms,
                markerfacecolor='none', markeredgecolor=series_colors[i], markeredgewidth=mew,
                zorder=2 + i)
    h, = ax.plot([], [], linestyle='none', marker=series_markers[i], markersize=loose_size[i] * 0.75,
                 markerfacecolor='none', markeredgecolor=series_colors[i], markeredgewidth=0.9,
                 label=series_labels[i])
    handles.append(h)

ax.set_xlim(2002.0, 2013.25)
ax.set_ylim(0.990, 1.080)

ax.xaxis.set_major_locator(MultipleLocator(1))
ax.xaxis.set_minor_locator(MultipleLocator(1 / 12))
ax.xaxis.set_major_formatter(FuncFormatter(lambda v, p: "%d" % round(v)))
ax.yaxis.set_major_locator(FixedLocator([1.00, 1.02, 1.04, 1.06, 1.08]))
ax.yaxis.set_minor_locator(MultipleLocator(0.005))
ax.yaxis.set_major_formatter(FuncFormatter(lambda v, p: "%.2f" % v))

ax.tick_params(axis='both', which='major', direction='in', length=11, width=1.2,
               labelsize=13.5, top=True, right=False)
ax.tick_params(axis='both', which='minor', direction='in', length=5.5, width=1.0,
               top=True, right=False)
ax.tick_params(axis='y', which='major', pad=8)
ax.tick_params(axis='x', which='major', pad=5)

# right axis: every tick drawn long, no labels
sec = ax.secondary_yaxis('right')
sec.yaxis.set_major_locator(MultipleLocator(0.005))
sec.tick_params(axis='y', which='major', direction='in', length=11, width=1.2, labelright=False)
sec.tick_params(axis='y', which='minor', length=0)
sec.spines['right'].set_linewidth(1.5)

for s in ax.spines.values():
    s.set_linewidth(1.5)

ax.set_ylabel("Gain/Gain(t0)", fontsize=14, labelpad=8)
ax.set_title("AATSR Gain Variation", fontsize=14, fontweight='bold', fontstyle='italic', pad=14)

leg = ax.legend(handles=handles, loc='upper right', bbox_to_anchor=(0.998, 1.0),
                borderaxespad=0.0, fontsize=13, frameon=True, fancybox=False,
                edgecolor='black', framealpha=1.0, handlelength=0.4, handletextpad=0.25,
                borderpad=0.3, labelspacing=0.2)
leg.get_frame().set_linewidth(1.0)
leg.set_zorder(10)

fig.savefig("out.png", dpi=100)
